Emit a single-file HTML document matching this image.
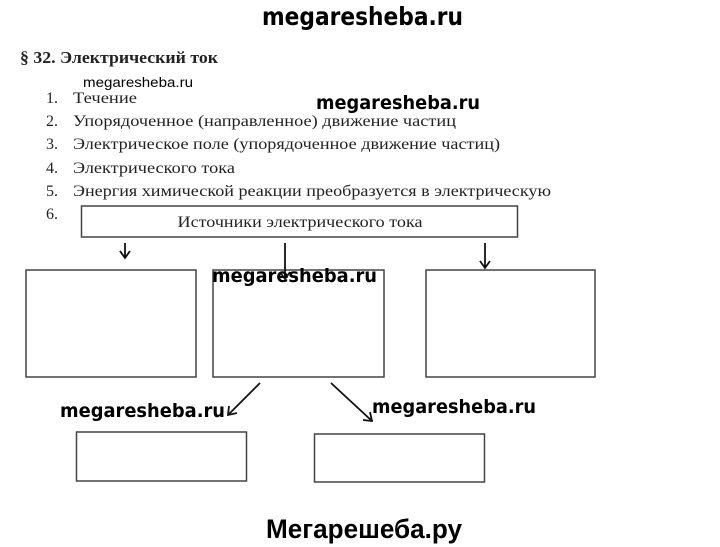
<!DOCTYPE html>
<html><head><meta charset="utf-8"><style>
html,body{margin:0;padding:0;background:#fff;}
svg{display:block;}
.s{font-family:"Liberation Serif",serif;font-size:16px;fill:#222;}
.w{font-family:"DejaVu Sans Condensed","DejaVu Sans",sans-serif;font-weight:bold;fill:#000;}
</style></head><body>
<svg width="720" height="547" viewBox="0 0 720 547" xmlns="http://www.w3.org/2000/svg">
<text x="262" y="25" class="w" font-size="25" textLength="201" lengthAdjust="spacingAndGlyphs">megaresheba.ru</text>
<text x="20" y="63" style="font-family:'Liberation Serif',serif;font-weight:bold;font-size:17px;fill:#222" textLength="198" lengthAdjust="spacingAndGlyphs">§ 32. Электрический ток</text>
<text x="83" y="87" style="font-family:'Liberation Sans',sans-serif;font-size:14px;fill:#000" textLength="110" lengthAdjust="spacingAndGlyphs">megaresheba.ru</text>
<text x="46" y="103" class="s">1.</text><text x="73" y="103" class="s" textLength="64" lengthAdjust="spacingAndGlyphs">Течение</text>
<text x="316" y="109" class="w" font-size="19" textLength="164" lengthAdjust="spacingAndGlyphs">megaresheba.ru</text>
<text x="46" y="126" class="s">2.</text><text x="73" y="126" class="s" textLength="383" lengthAdjust="spacingAndGlyphs">Упорядоченное (направленное) движение частиц</text>
<text x="46" y="149" class="s">3.</text><text x="73" y="149" class="s" textLength="427" lengthAdjust="spacingAndGlyphs">Электрическое поле (упорядоченное движение частиц)</text>
<text x="46" y="173" class="s">4.</text><text x="73" y="173" class="s" textLength="162" lengthAdjust="spacingAndGlyphs">Электрического тока</text>
<text x="46" y="196" class="s">5.</text><text x="73" y="196" class="s" textLength="478" lengthAdjust="spacingAndGlyphs">Энергия химической реакции преобразуется в электрическую</text>
<text x="46" y="219" class="s">6.</text>
<g fill="none" stroke="#444" stroke-width="1.5">
<rect x="81.5" y="206" width="436" height="31"/>
<rect x="26" y="270" width="170" height="107"/>
<rect x="213" y="270" width="171" height="107"/>
<rect x="426" y="270" width="169" height="107"/>
<rect x="76.5" y="432" width="170" height="49"/>
<rect x="314.5" y="434" width="170" height="48"/>
</g>
<text x="300" y="227" class="s" text-anchor="middle" textLength="245" lengthAdjust="spacingAndGlyphs">Источники электрического тока</text>
<g stroke="#111" stroke-width="1.8" fill="none">
<path d="M125 243V258M120 251L125 258L130 251"/>
<path d="M285 243V279M280 272L285 279L290 272"/>
<path d="M485 243V268M480 261L485 268L490 261"/>
<path d="M260 383L228 415M229 406L228 415L237 413"/>
<path d="M331 383L372 421M363 420L372 421L370 412"/>
</g>
<text x="212" y="282" class="w" font-size="19" textLength="165" lengthAdjust="spacingAndGlyphs">megaresheba.ru</text>
<text x="60" y="417" class="w" font-size="19" textLength="165" lengthAdjust="spacingAndGlyphs">megaresheba.ru</text>
<text x="372" y="413" class="w" font-size="19" textLength="164" lengthAdjust="spacingAndGlyphs">megaresheba.ru</text>
<text x="266" y="538" style="font-family:'Liberation Sans',sans-serif;font-weight:bold;font-size:27px;fill:#000" textLength="196" lengthAdjust="spacingAndGlyphs">Мегарешеба.ру</text>
</svg>
</body></html>
